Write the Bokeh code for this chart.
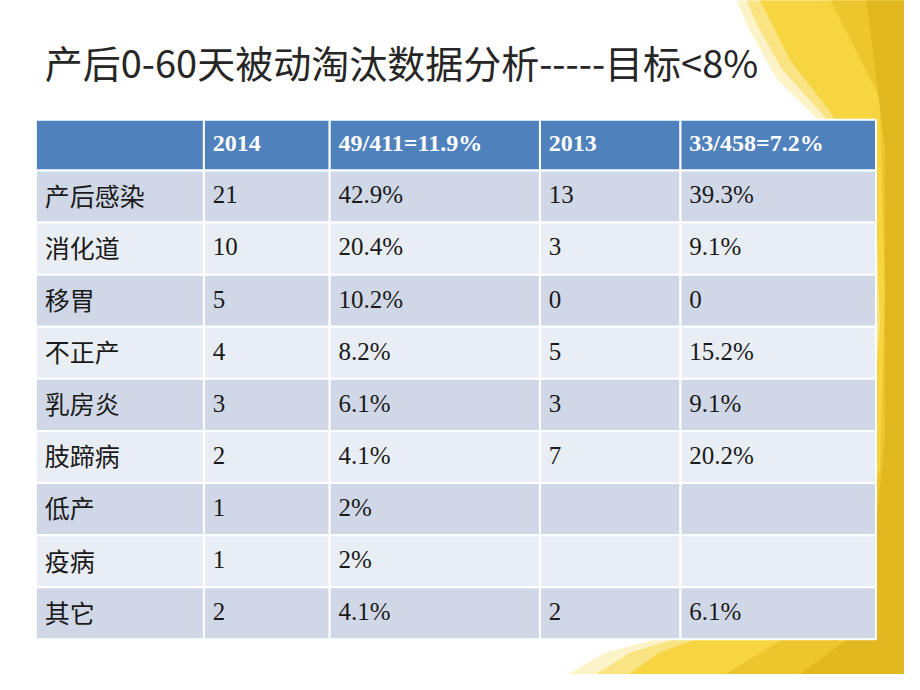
from bokeh.plotting import figure
from bokeh.models import Range1d
from bokeh.core.properties import value
from bokeh.embed import file_html
from bokeh.resources import INLINE

# ---- data ----
title = "产后0-60天被动淘汰数据分析-----目标<8%"
headers = ["", "2014", "49/411=11.9%", "2013", "33/458=7.2%"]
categories = ["产后感染", "消化道", "移胃", "不正产", "乳房炎", "肢蹄病", "低产", "疫病", "其它"]
n2014 = ["21", "10", "5", "4", "3", "2", "1", "1", "2"]
pct2014 = ["42.9%", "20.4%", "10.2%", "8.2%", "6.1%", "4.1%", "2%", "2%", "4.1%"]
n2013 = ["13", "3", "0", "5", "3", "7", "", "", "2"]
pct2013 = ["39.3%", "9.1%", "0", "15.2%", "9.1%", "20.2%", "", "", "6.1%"]

# ---- layout (slide coordinates, 920 x 690) ----
col_edges = [36, 207, 335, 549, 692, 891]
head_top, head_bot = 122, 174
row_h = (654 - head_bot) / len(categories)

W, H = 904, 674
p = figure(width=W, height=H, x_range=Range1d(0, 920), y_range=Range1d(690, 0),
           output_backend="svg", toolbar_location=None, min_border=0)
p.axis.visible = False
p.grid.visible = False
p.outline_line_color = None
p.background_fill_color = "white"
p.border_fill_color = "white"

# ---- decorative yellow swoosh (background), layered to fake a gradient ----
p.patch([745, 930, 930, 560, 615, 700, 820, 875, 890, 880, 830, 790, 762],
        [-10, -10, 700, 700, 668, 645, 600, 480, 330, 190, 120, 80, 30],
        fill_color="#FDF3C8", line_color=None)
p.patch([755, 930, 930, 590, 640, 720, 830, 880, 892, 885, 838, 795, 770],
        [-10, -10, 700, 700, 668, 643, 595, 475, 330, 190, 118, 70, 25],
        fill_color="#F9E382", line_color=None)
p.patch([768, 930, 930, 625, 670, 745, 840, 885, 895, 890, 845, 803],
        [-10, -10, 700, 700, 668, 640, 590, 470, 330, 190, 115, 60],
        fill_color="#F6D540", line_color=None)
p.patch([840, 930, 930, 720, 770, 850, 895, 900, 895],
        [-10, -10, 700, 700, 670, 620, 480, 300, 100],
        fill_color="#EDC52C", line_color=None)
p.patch([880, 930, 930, 800, 880, 900, 900],
        [-10, -10, 700, 700, 640, 450, 150],
        fill_color="#E2B820", line_color=None)

# ---- title ----
p.text(x=[45], y=[62], text=[title], text_font=value("Noto Sans CJK SC"),
       text_font_size="38px", text_color="#262626", text_baseline="middle", text_align="left")

# ---- cells ----
lefts, rights, tops, bots, fills = [], [], [], [], []
for c in range(5):
    lefts.append(col_edges[c]); rights.append(col_edges[c + 1])
    tops.append(head_top); bots.append(head_bot); fills.append("#4F81BD")
for r in range(len(categories)):
    t = head_bot + r * row_h
    for c in range(5):
        lefts.append(col_edges[c]); rights.append(col_edges[c + 1])
        tops.append(t); bots.append(t + row_h)
        fills.append("#D0D8E8" if r % 2 == 0 else "#E9EDF4")
p.quad(left=lefts, right=rights, top=tops, bottom=bots, fill_color=fills,
       line_color="white", line_width=2)

pad = 9
# header texts
hx = [col_edges[c] + pad for c in range(1, 5)]
p.text(x=hx, y=[head_top + 24] * 4, text=headers[1:],
       text_font=value("Liberation Serif"), text_font_style="bold",
       text_font_size="24px", text_color="white", text_baseline="middle")

# body texts
ys = [head_bot + r * row_h + 25 for r in range(len(categories))]
p.text(x=[col_edges[0] + pad] * len(categories), y=ys, text=categories,
       text_font=value("Noto Sans CJK SC"), text_font_size="25px",
       text_color="#1a1a1a", text_baseline="middle")
for c, col in zip(range(1, 5), [n2014, pct2014, n2013, pct2013]):
    p.text(x=[col_edges[c] + pad] * len(col), y=ys, text=col,
           text_font=value("Liberation Serif"), text_font_size="25px",
           text_color="#1a1a1a", text_baseline="middle")

open("out.html", "w").write(file_html(p, INLINE))
